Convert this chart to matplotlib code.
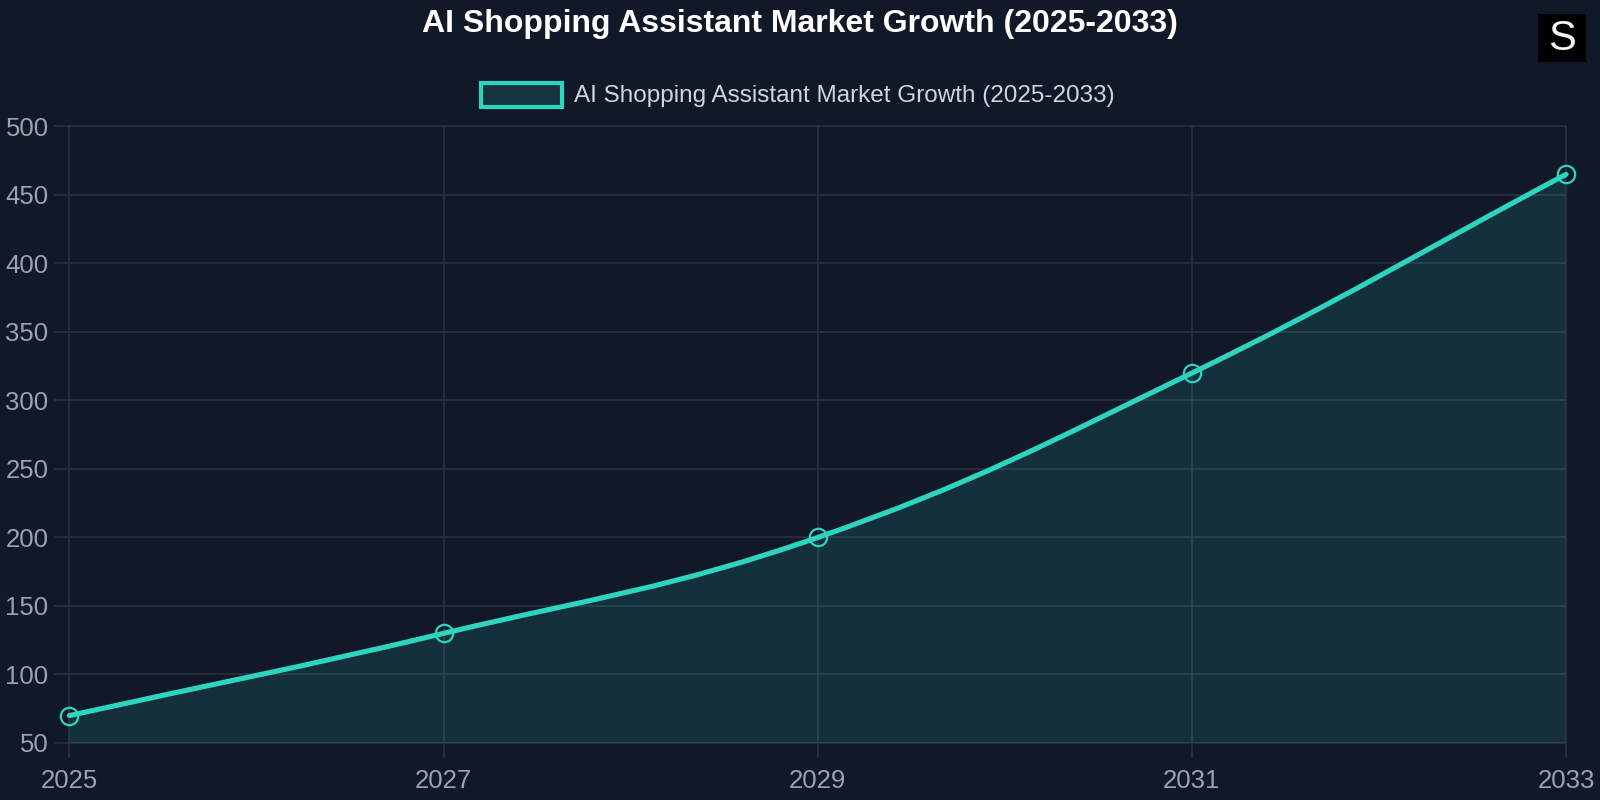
import matplotlib.pyplot as plt
from matplotlib.path import Path
from matplotlib.patches import PathPatch, Rectangle
import numpy as np

plt.rcParams["font.family"] = ["Liberation Sans", "DejaVu Sans"]

# data
years = ["2025", "2027", "2029", "2031", "2033"]
market_size = [70, 130, 200, 320, 465]
series_name = "AI Shopping Assistant Market Growth (2025-2033)"
y_ticks = [50, 100, 150, 200, 250, 300, 350, 400, 450, 500]

BG = "#111827"
TEAL = "#2dd4bf"
GRID = "#2a3242"
TICK = "#9ca3af"


def spline_path(px, py, tension=0.4):
    """Bezier path through points, same idea as Chart.js splineCurve."""
    n = len(px)
    verts = [(px[0], py[0])]
    codes = [Path.MOVETO]
    ctrl = []
    for i in range(n):
        p0 = (px[max(i - 1, 0)], py[max(i - 1, 0)])
        p1 = (px[i], py[i])
        p2 = (px[min(i + 1, n - 1)], py[min(i + 1, n - 1)])
        d01 = np.hypot(p1[0] - p0[0], p1[1] - p0[1])
        d12 = np.hypot(p2[0] - p1[0], p2[1] - p1[1])
        tot = d01 + d12
        s01 = d01 / tot if tot else 0
        s12 = d12 / tot if tot else 0
        fa, fb = tension * s01, tension * s12
        prev_c = (p1[0] - fa * (p2[0] - p0[0]), p1[1] - fa * (p2[1] - p0[1]))
        next_c = (p1[0] + fb * (p2[0] - p0[0]), p1[1] + fb * (p2[1] - p0[1]))
        ctrl.append((prev_c, next_c))
    for i in range(1, n):
        verts += [ctrl[i - 1][1], ctrl[i][0], (px[i], py[i])]
        codes += [Path.CURVE4] * 3
    return verts, codes


fig = plt.figure(figsize=(16, 8), dpi=100, facecolor=BG)
ax = fig.add_axes([0.0434, 0.0713, 0.9354, 0.7707])
ax.set_facecolor(BG)

x = np.arange(len(years))
ax.set_xlim(0, len(years) - 1)
ax.set_ylim(50, 500)

# smooth line computed in display space, then mapped back to data space
disp = ax.transData.transform(np.column_stack([x, market_size]))
verts, codes = spline_path(disp[:, 0], disp[:, 1])
inv = ax.transData.inverted()
data_verts = [tuple(inv.transform(v)) for v in verts]

line_path = Path(data_verts, codes)
fill_verts = data_verts + [(x[-1], 50), (x[0], 50), data_verts[0]]
fill_codes = codes + [Path.LINETO, Path.LINETO, Path.CLOSEPOLY]
ax.add_patch(PathPatch(Path(fill_verts, fill_codes), facecolor=TEAL, alpha=0.13,
                       edgecolor="none", zorder=2))
ax.add_patch(PathPatch(line_path, facecolor="none", edgecolor=TEAL, lw=3.7,
                       capstyle="round", zorder=3, clip_on=False))
ax.plot(x, market_size, linestyle="none", marker="o", markersize=12.5,
        markerfacecolor="none", markeredgecolor=TEAL, markeredgewidth=1.6,
        zorder=4, clip_on=False)

ax.set_xticks(x)
ax.set_xticklabels(years)
ax.set_yticks(y_ticks)
ax.grid(True, color=GRID, linewidth=1.2, zorder=0)
for sp in ax.spines.values():
    sp.set_visible(False)
for gl in ax.get_xgridlines() + ax.get_ygridlines():
    gl.set_clip_on(False)
ax.tick_params(axis="both", colors=GRID, length=11, width=1.2,
               labelcolor=TICK, labelsize=18.5)
ax.tick_params(axis="x", pad=8)
ax.tick_params(axis="y", pad=4)
ax.set_axisbelow(True)

fig.text(0.5, 1 - 24 / 800, series_name, ha="center", va="center", color="white",
         fontsize=23, fontweight="bold")

# legend
fig.patches.append(Rectangle((481 / 1600, 1 - 107 / 800), 81 / 1600, 24 / 800,
                             transform=fig.transFigure, facecolor="#15343e",
                             edgecolor=TEAL, linewidth=3))
fig.text(574 / 1600, 1 - 96 / 800, series_name, ha="left", va="center",
         color="#d1d5db", fontsize=17.5)

# logo box
fig.patches.append(Rectangle((1538 / 1600, 1 - 62 / 800), 48 / 1600, 48 / 800,
                             transform=fig.transFigure, facecolor="black",
                             edgecolor="none"))
fig.text(1562 / 1600, 1 - 39 / 800, "S", ha="center", va="center",
         color="#f3f4f6", fontsize=30)

fig.savefig("out.png", dpi=100, facecolor=BG)
